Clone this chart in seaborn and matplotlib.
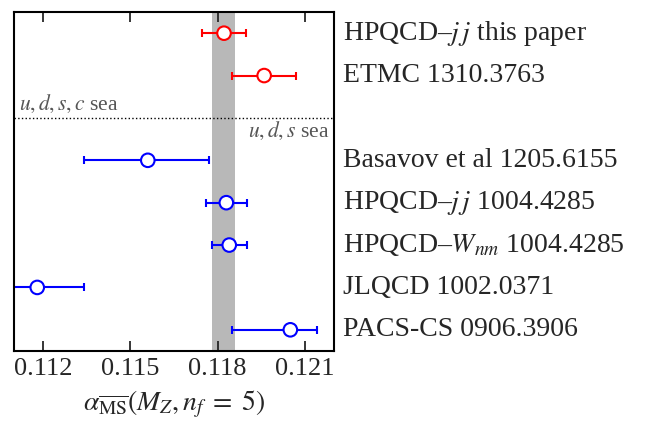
import numpy as np
import pandas as pd
import seaborn as sns
import matplotlib.pyplot as plt
from matplotlib import transforms

# values
labels = ["HPQCD\u2013$j\\,j$ this paper", "ETMC 1310.3763",
          "Basavov et al 1205.6155", "HPQCD\u2013$j\\,j$ 1004.4285",
          "HPQCD\u2013$W_{nm}$ 1004.4285", "JLQCD 1002.0371",
          "PACS-CS 0906.3906"]
rows = [0, 1, 3, 4, 5, 6, 7]
alpha_s = [0.11822, 0.1196, 0.1156, 0.1183, 0.1184, 0.1118, 0.1205]
err_lo = [0.00074, 0.0011, 0.0022, 0.0007, 0.0006, 0.0017, 0.0020]
err_hi = [0.00074, 0.0011, 0.0021, 0.0007, 0.0006, 0.0016, 0.0009]
colors = ["red", "red", "blue", "blue", "blue", "blue", "blue"]
band = (0.1178, 0.1186)
xticks = [0.112, 0.115, 0.118, 0.121]

df = pd.DataFrame({"label": labels, "row": rows, "alpha": alpha_s,
                   "lo": err_lo, "hi": err_hi, "color": colors})

sns.set_style("ticks")
plt.rcParams["font.family"] = ["Liberation Serif", "DejaVu Serif"]
plt.rcParams["mathtext.fontset"] = "stix"

fig = plt.figure(figsize=(6.47, 4.21), dpi=100)
ax = fig.add_axes([0.0216, 0.1663, 0.4946, 0.8052])

ax.axvspan(band[0], band[1], color="#b8b8b8", lw=0, zorder=0)
ax.axhline(2, color="black", ls=":", lw=1, zorder=1)

for _, r in df.iterrows():
    ax.errorbar(r["alpha"], r["row"], xerr=[[r["lo"]], [r["hi"]]], fmt="none",
                ecolor=r["color"], elinewidth=1.5, capsize=3, capthick=1.5, zorder=2)

sns.scatterplot(data=df, x="alpha", y="row", ax=ax, color="white",
                edgecolor=df["color"].tolist(), linewidth=1.5, s=95, zorder=3,
                legend=False)

ax.set_xlim(0.111, 0.122)
ax.set_ylim(7.5, -0.5)
ax.set_xticks(xticks)
ax.set_xticklabels([f"{t:.3f}" for t in xticks], fontsize=19)
ax.set_yticks([])
ax.set_ylabel("")
ax.set_xlabel(r"$\alpha_{\overline{\rm MS}}(M_Z, n_f\; =\; 5)$", fontsize=20, labelpad=6)
ax.tick_params(axis="x", direction="in", top=True, bottom=True, length=7, width=1.3, pad=5)
for s in ax.spines.values():
    s.set_linewidth(1.5)
    s.set_color("black")

trans = transforms.blended_transform_factory(ax.transAxes, ax.transData)
for _, r in df.iterrows():
    ax.text(1.028, r["row"], r["label"], transform=trans, ha="left", va="center",
            fontsize=20, clip_on=False)

ax.text(0.015, 1.93, "$u,d,s,c$ sea", transform=trans, ha="left", va="bottom",
        fontsize=15.5, color="#555555")
ax.text(0.985, 2.05, "$u,d,s$ sea", transform=trans, ha="right", va="top",
        fontsize=15.5, color="#555555")

fig.savefig("out.png", dpi=100)
